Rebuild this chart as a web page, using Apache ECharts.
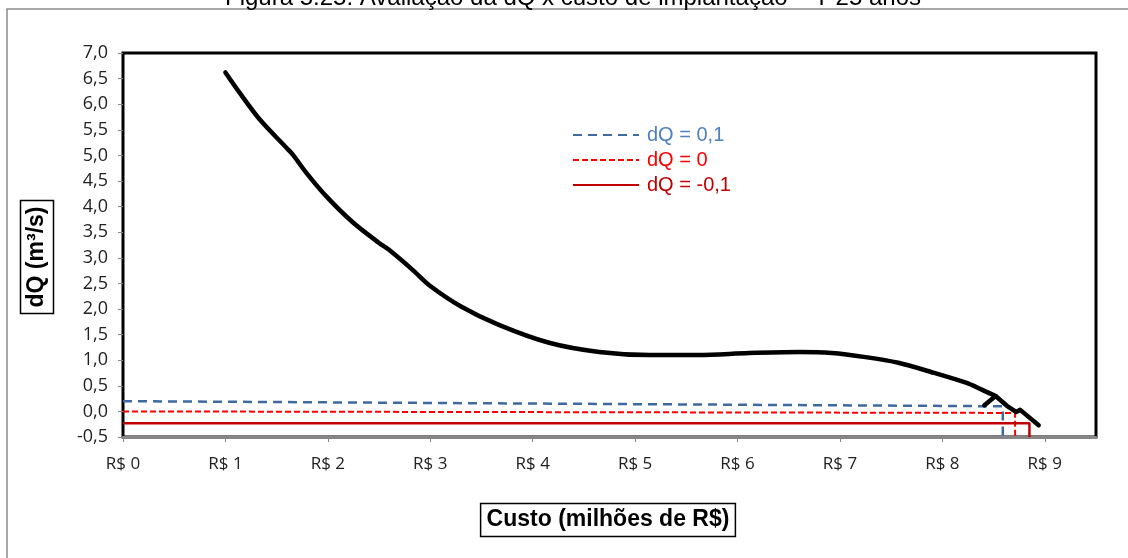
<!DOCTYPE html>
<html>
<head>
<meta charset="utf-8">
<script src="https://cdn.jsdelivr.net/npm/echarts@6/dist/echarts.min.js"></script>
<style>
html,body{margin:0;padding:0;background:#fff;}
#chart{width:1128px;height:558px;}
</style>
</head>
<body>
<div id="chart"></div>
<script>
// ---- data ----
const titleText = 'Figura 5.25: Avaliação da dQ x custo de implantação – T 25 anos';
const xTicks = [0, 1, 2, 3, 4, 5, 6, 7, 8, 9];
const curveMain = [
  [1.00, 6.62], [1.14, 6.22], [1.34, 5.69], [1.60, 5.14], [1.66, 5.01], [1.79, 4.66],
  [1.99, 4.19], [2.24, 3.70], [2.50, 3.29], [2.60, 3.15], [2.83, 2.76], [3.00, 2.45],
  [3.30, 2.05], [3.67, 1.69], [4.16, 1.34], [4.65, 1.16], [5.14, 1.10], [5.62, 1.10],
  [6.11, 1.14], [6.60, 1.16], [6.92, 1.14], [7.25, 1.06], [7.57, 0.95], [7.89, 0.77],
  [8.23, 0.56], [8.38, 0.43], [8.52, 0.30]
];
const curveTail = [[8.41, 0.12], [8.52, 0.30], [8.63, 0.11], [8.72, -0.01], [8.76, 0.03], [8.94, -0.27]];
const lineDq01 = [[0, 0.20], [8.59, 0.10], [8.59, -0.5]];
const lineDq0 = [[0, 0.0], [8.71, -0.03], [8.71, -0.5]];
const lineDqM01 = [[0, -0.23], [8.85, -0.23], [8.85, -0.5]];
const names = ['dQ = 0,1', 'dQ = 0', 'dQ = -0,1'];

const chart = echarts.init(document.getElementById('chart'));
const fmt = v => v.toFixed(1).replace('.', ',');
chart.setOption({
  animation: false,
  backgroundColor: '#fff',
  grid: {
    left: 123, top: 53, right: 32, bottom: 121,
    show: true, borderColor: '#000', borderWidth: 3, backgroundColor: 'transparent'
  },
  legend: {
    orient: 'vertical', left: 567, top: 120, itemGap: 5,
    itemWidth: 66, itemHeight: 14,
    itemStyle: { opacity: 0 },
    textStyle: { fontFamily: 'Liberation Sans', fontSize: 20, padding: [0, 0, 0, 3] },
    data: [
      { name: names[0], textStyle: { color: '#4f81bd' } },
      { name: names[1], textStyle: { color: '#ff0000' } },
      { name: names[2], textStyle: { color: '#c00000' } }
    ]
  },
  xAxis: {
    type: 'value', min: 0, max: 9.5, interval: 1,
    splitLine: { show: false },
    axisLine: { show: true, onZero: false, lineStyle: { color: '#868686', width: 3 } },
    axisTick: { show: true, length: 5, lineStyle: { color: '#868686', width: 1 }, customValues: xTicks },
    axisLabel: {
      customValues: xTicks, margin: 19,
      formatter: v => 'R$ ' + v,
      fontFamily: 'Open Sans', fontSize: 17, color: '#222'
    }
  },
  yAxis: {
    type: 'value', min: -0.5, max: 7, interval: 0.5,
    splitLine: { show: false },
    axisLine: { show: false },
    axisTick: { show: true, length: 5, lineStyle: { color: '#868686', width: 1 } },
    axisLabel: {
      margin: 15, formatter: fmt,
      fontFamily: 'Open Sans', fontSize: 18, color: '#222'
    }
  },
  series: [
    {
      name: names[0], type: 'line', data: lineDq01, symbol: 'none',
      itemStyle: { color: '#3e6aa0' },
      lineStyle: { color: '#3e6aa0', width: 2.5, type: [9, 6] }, z: 3
    },
    {
      name: names[1], type: 'line', data: lineDq0, symbol: 'none',
      itemStyle: { color: '#ff0000' },
      lineStyle: { color: '#ff0000', width: 2, type: [6, 3] }, z: 3
    },
    {
      name: names[2], type: 'line', data: lineDqM01, symbol: 'none',
      itemStyle: { color: '#c00000' },
      lineStyle: { color: '#c00000', width: 2.5 }, z: 3
    },
    {
      name: 'curve', type: 'line', data: curveMain, symbol: 'none', smooth: 0.3,
      itemStyle: { color: '#000' },
      lineStyle: { color: '#000', width: 4.5, cap: 'round', join: 'round' }, z: 4
    },
    {
      name: 'curveTail', type: 'line', data: curveTail, symbol: 'none',
      itemStyle: { color: '#000' },
      lineStyle: { color: '#000', width: 4.5, cap: 'round', join: 'round' }, z: 4
    }
  ],
  graphic: [
    {
      type: 'rect', shape: { x: 7, y: 9, width: 1300, height: 700 },
      style: { fill: 'none', stroke: '#8c8c8c', lineWidth: 1.5 }, z: -10, silent: true
    },
    {
      type: 'text', x: 573, y: -2,
      style: {
        text: titleText, fontFamily: 'Liberation Sans', fontSize: 24,
        fill: '#000', textAlign: 'center', textVerticalAlign: 'middle'
      }
    },
    {
      type: 'text', x: 37, y: 257, rotation: Math.PI / 2,
      style: {
        text: 'dQ (m³/s)', fontFamily: 'Liberation Sans', fontSize: 23, fontWeight: 'bold',
        fill: '#000', textAlign: 'center', textVerticalAlign: 'middle',
        borderColor: '#000', borderWidth: 1.5, padding: [5, 6, 5, 6]
      }
    },
    {
      type: 'text', x: 608, y: 520,
      style: {
        text: 'Custo (milhões de R$)', fontFamily: 'Liberation Sans', fontSize: 23, fontWeight: 'bold',
        fill: '#000', textAlign: 'center', textVerticalAlign: 'middle',
        borderColor: '#000', borderWidth: 1.5, padding: [5, 6, 5, 6]
      }
    }
  ]
});
</script>
</body>
</html>
